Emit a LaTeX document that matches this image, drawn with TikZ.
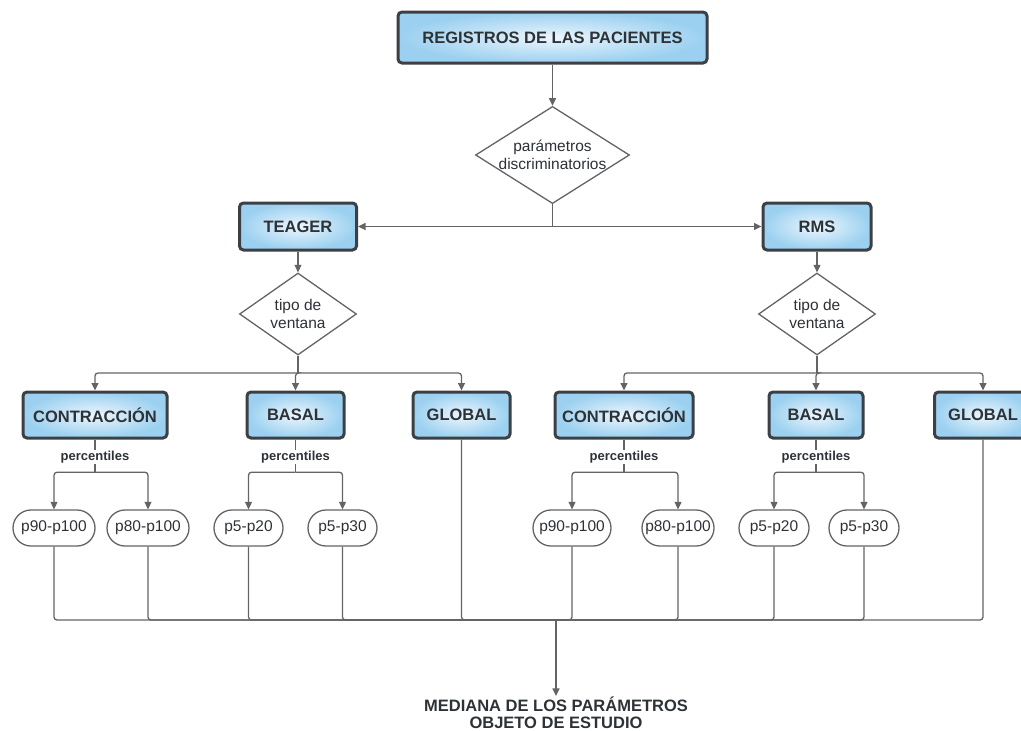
\documentclass[tikz,border=0pt]{standalone}
\usepackage{fontspec}
\setmainfont{Liberation Sans}
\usetikzlibrary{shapes.geometric,shapes.misc,arrows.meta}
\definecolor{boxin}{RGB}{236,246,253}
\definecolor{boxout}{RGB}{155,208,240}
\definecolor{edgegray}{RGB}{100,100,100}
\definecolor{txt}{RGB}{45,50,55}
\definecolor{frame}{RGB}{60,64,68}
\begin{document}
\begin{tikzpicture}[x=1pt,y=-1pt]
  \tikzstyle{every node}=[text=txt]
  \tikzstyle{box}=[rectangle,rounded corners=4pt,draw=frame,line width=3pt,inner color=boxin,outer color=boxout,inner sep=2pt,minimum height=46pt,font=\bfseries\fontsize{16.5}{18}\selectfont]
  \tikzstyle{ask}=[diamond,draw=edgegray,line width=1.3pt,fill=white,inner sep=-10pt,align=center,font=\fontsize{15.5}{18}\selectfont]
  \tikzstyle{pill}=[rounded rectangle,draw=edgegray,line width=1.3pt,minimum height=36pt,inner xsep=1pt,font=\fontsize{15.5}{18}\selectfont]
  \tikzstyle{tag}=[inner sep=1pt,font=\bfseries\fontsize{13}{15}\selectfont]
  \tikzstyle{link}=[draw=edgegray,line width=1.3pt,rounded corners=3pt]
  \tikzstyle{arr}=[link,-{Triangle[length=7.5pt,width=7pt]}]
  \useasboundingbox (0,0) rectangle (1021,731);

  % top of the tree
  \node[box,minimum width=309pt,minimum height=51pt] (reg) at (552.5,37.5) {REGISTROS DE LAS PACIENTES};
  \node[ask,minimum width=154pt,minimum height=92pt] (par) at (552.5,155) {parámetros\\discriminatorios};
  \node[box,minimum width=117pt,minimum height=47pt] (teager) at (298,226.5) {TEAGER};
  \node[box,minimum width=108pt,minimum height=47pt] (rms) at (817,226.5) {RMS};
  \node[ask,minimum width=117pt,minimum height=82pt] (vtL) at (298,314) {tipo de\\ventana};
  \node[ask,minimum width=117pt,minimum height=82pt] (vtR) at (817,314) {tipo de\\ventana};

  % ventanas
  \node[box,minimum width=144pt] (conL) at (95,415) {CONTRACCIÓN};
  \node[box,minimum width=97pt] (basL) at (295.5,415) {BASAL};
  \node[box,minimum width=97pt] (gloL) at (461.5,415) {GLOBAL};
  \node[box,minimum width=138pt] (conR) at (624,415) {CONTRACCIÓN};
  \node[box,minimum width=94pt] (basR) at (816,415) {BASAL};
  \node[box,minimum width=97pt] (gloR) at (983,415) {GLOBAL};

  \node[tag] (pcL1) at (95,457) {percentiles};
  \node[tag] (pcL2) at (295.5,457) {percentiles};
  \node[tag] (pcR1) at (624,457) {percentiles};
  \node[tag] (pcR2) at (816,457) {percentiles};

  % percentiles
  \node[pill,minimum width=84pt] (pL1) at (54,528) {p90-p100};
  \node[pill,minimum width=84pt] (pL2) at (148,528) {p80-p100};
  \node[pill,minimum width=71pt] (pL3) at (248.5,528) {p5-p20};
  \node[pill,minimum width=71pt] (pL4) at (342.5,528) {p5-p30};
  \node[pill,minimum width=80pt] (pR1) at (572,528) {p90-p100};
  \node[pill,minimum width=74pt] (pR2) at (678,528) {p80-p100};
  \node[pill,minimum width=72pt] (pR3) at (774,528) {p5-p20};
  \node[pill,minimum width=72pt] (pR4) at (864,528) {p5-p30};

  \node[align=center,inner sep=1pt,font=\bfseries\fontsize{16.5}{17}\selectfont] (med) at (556,713) {MEDIANA DE LOS PARÁMETROS\\OBJETO DE ESTUDIO};

  % connectors
  \draw[arr] (reg) -- (par);
  \coordinate (s0) at (par.south |- teager.east);
  \draw[link] (par.south) -- (s0);
  \draw[arr] (s0) -- (teager.east);
  \draw[arr] (s0) -- (rms.west);
  \draw[arr] (teager) -- (vtL);
  \draw[arr] (rms) -- (vtR);

  \coordinate (sL) at (vtL.south |- 0,373);
  \coordinate (sR) at (vtR.south |- 0,373);
  \draw[link] (vtL.south) -- (sL);
  \draw[link] (vtR.south) -- (sR);
  \foreach \b in {conL,basL,gloL} \draw[arr] (sL) -| (\b.north);
  \foreach \b in {conR,basR,gloR} \draw[arr] (sR) -| (\b.north);

  \foreach \b/\t/\x/\y in {conL/pcL1/pL1/pL2,basL/pcL2/pL3/pL4,conR/pcR1/pR1/pR2,basR/pcR2/pR3/pR4}{
    \draw[link] (\b.south) -- (\t.north);
    \draw[link] (\t.south) -- ++(0,8) coordinate (c\t);
    \draw[arr] (c\t) -| (\x.north);
    \draw[arr] (c\t) -| (\y.north);
  }

  \coordinate (join) at (556,620);
  \foreach \p in {pL1,pL2,pL3,pL4,pR1,pR2,pR3,pR4,gloL,gloR} \draw[link] (\p.south) |- (join);
  \draw[arr] (join) -- (med.north);
\end{tikzpicture}
\end{document}
